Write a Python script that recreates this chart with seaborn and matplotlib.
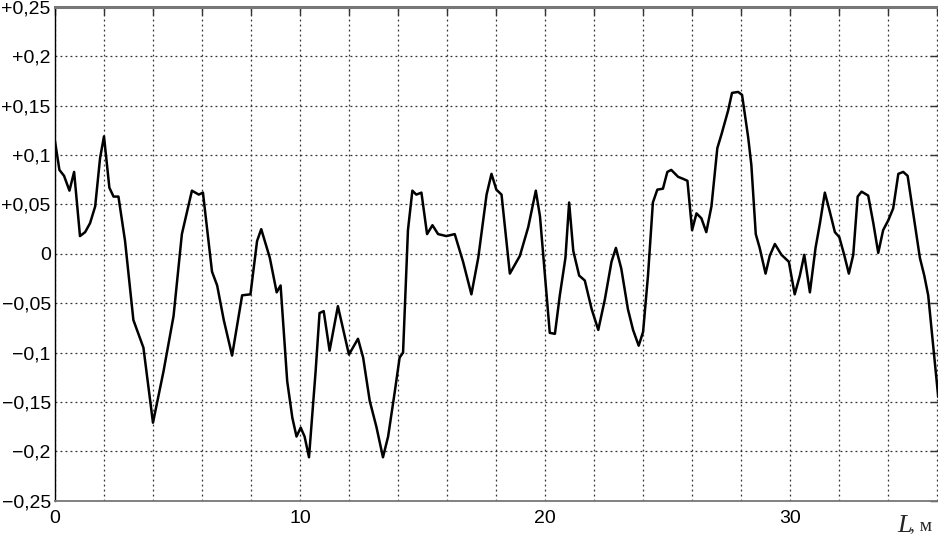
import numpy as np
import pandas as pd
import seaborn as sns
import matplotlib.pyplot as plt
from matplotlib.ticker import FixedLocator

# profile values, L in metres
dist = [0, 0.18, 0.37, 0.59, 0.78, 1.02, 1.23, 1.43, 1.64, 1.84,
        2.0, 2.22, 2.39, 2.59, 2.86, 3.2, 3.61, 4.0, 4.43, 4.84,
        5.18, 5.59, 5.87, 6.04, 6.41, 6.62, 6.89, 7.23, 7.64, 7.98,
        8.25, 8.42, 8.77, 9.05, 9.21, 9.48, 9.69, 9.86, 10.03, 10.19,
        10.37, 10.53, 10.64, 10.80, 10.97, 11.21, 11.55, 12.0, 12.37, 12.58,
        12.85, 13.12, 13.39, 13.6, 13.87, 14.07, 14.21, 14.41, 14.59, 14.75,
        14.96, 15.19, 15.41, 15.64, 15.98, 16.32, 16.66, 17.0, 17.28, 17.62,
        17.82, 18.02, 18.23, 18.57, 18.98, 19.32, 19.63, 19.80, 20.07, 20.2,
        20.41, 20.61, 20.84, 20.99, 21.16, 21.4, 21.63, 21.91, 22.18, 22.45,
        22.72, 22.9, 23.12, 23.39, 23.6, 23.83, 24.01, 24.21, 24.41, 24.59,
        24.82, 25.0, 25.16, 25.44, 25.64, 25.82, 26.01, 26.19, 26.39, 26.59,
        26.8, 27.04, 27.21, 27.48, 27.64, 27.89, 28.05, 28.3, 28.43, 28.61,
        28.77, 29.01, 29.18, 29.39, 29.66, 29.96, 30.2, 30.41, 30.59, 30.82,
        31.05, 31.23, 31.43, 31.63, 31.84, 32.02, 32.22, 32.41, 32.59, 32.77,
        32.93, 33.2, 33.41, 33.61, 33.81, 34.02, 34.22, 34.43, 34.63, 34.81,
        35.04, 35.31, 35.49, 35.65, 35.86, 36.06]
dev = [0.114, 0.085, 0.079, 0.064, 0.083, 0.018, 0.022, 0.031, 0.048, 0.097,
       0.119, 0.067, 0.058, 0.058, 0.013, -0.067, -0.095, -0.171, -0.119, -0.063,
       0.020, 0.064, 0.060, 0.062, -0.018, -0.032, -0.067, -0.103, -0.042, -0.041,
       0.013, 0.025, -0.004, -0.039, -0.032, -0.129, -0.166, -0.185, -0.176, -0.185,
       -0.206, -0.154, -0.119, -0.060, -0.058, -0.098, -0.053, -0.102, -0.086, -0.105,
       -0.149, -0.175, -0.206, -0.185, -0.140, -0.105, -0.100, 0.024, 0.064, 0.060,
       0.062, 0.020, 0.029, 0.020, 0.018, 0.020, -0.008, -0.041, -0.004, 0.060,
       0.081, 0.065, 0.060, -0.020, -0.002, 0.027, 0.064, 0.038, -0.042, -0.080,
       -0.081, -0.042, -0.004, 0.052, 0.003, -0.022, -0.027, -0.056, -0.077, -0.046,
       -0.008, 0.006, -0.015, -0.056, -0.077, -0.093, -0.079, -0.022, 0.052, 0.065,
       0.066, 0.083, 0.085, 0.078, 0.076, 0.074, 0.024, 0.041, 0.036, 0.022,
       0.048, 0.107, 0.121, 0.145, 0.163, 0.164, 0.161, 0.118, 0.090, 0.020,
       0.006, -0.020, -0.002, 0.010, -0.001, -0.008, -0.041, -0.022, -0.001, -0.039,
       0.006, 0.031, 0.062, 0.043, 0.022, 0.017, -0.001, -0.020, -0.001, 0.058,
       0.063, 0.059, 0.031, 0.001, 0.024, 0.034, 0.046, 0.081, 0.083, 0.079,
       0.041, -0.004, -0.022, -0.042, -0.095, -0.145]

x_ticks = list(range(0, 37, 2))
x_labels = ["0", "", "", "", "", "10", "", "", "", "", "20", "", "", "", "", "30", "", "", ""]
y_ticks = [-0.25, -0.2, -0.15, -0.1, -0.05, 0, 0.05, 0.1, 0.15, 0.2, 0.25]
y_labels = ["\u22120,25", "\u22120,2", "\u22120,15", "\u22120,1", "\u22120,05", "0",
            "+0,05", "+0,1", "+0,15", "+0,2", "+0,25"]

df = pd.DataFrame({"L": dist, "dev": dev})

sns.set_style("white")
plt.rcParams["font.family"] = ["Liberation Sans", "DejaVu Sans"]

fig = plt.figure(figsize=(9.38, 5.39), dpi=100)
ax = fig.add_axes([55 / 938, 38.3 / 539, 1 - 55 / 938, 493.7 / 539])

sns.lineplot(data=df, x="L", y="dev", ax=ax, color="black", linewidth=1.8,
             sort=False, estimator=None)

ax.set_xlim(0, 36.05)
ax.set_ylim(-0.25, 0.25)
ax.xaxis.set_major_locator(FixedLocator(x_ticks))
ax.set_xticklabels(x_labels)
ax.yaxis.set_major_locator(FixedLocator(y_ticks))
ax.set_yticklabels(y_labels)
ax.set_xlabel("")
ax.set_ylabel("")

ax.grid(True, linestyle=(0, (1.5, 2.5)), color="#333333", linewidth=0.9)
ax.tick_params(axis="both", direction="in", length=6, width=1, colors="#333333",
               labelsize=14, labelcolor="black", top=True, right=True)
ax.tick_params(axis="x", pad=7)
ax.tick_params(axis="y", pad=3)

for side in ["top", "bottom", "right"]:
    ax.spines[side].set_color("#777777")
ax.spines["top"].set_linewidth(2.2)
ax.spines["bottom"].set_linewidth(1.3)
ax.spines["left"].set_color("black")
ax.spines["left"].set_linewidth(1.0)
ax.spines["right"].set_visible(False)

# axis label sits at the bottom right corner, as in the source
fig.text(897 / 938, 1 - 526 / 539, "L", fontsize=19, style="italic",
         family="Liberation Serif", ha="left", va="center")
fig.text(910 / 938, 1 - 526 / 539, ", м", fontsize=14,
         family="Liberation Serif", ha="left", va="center")

fig.savefig("out.png", dpi=100)
